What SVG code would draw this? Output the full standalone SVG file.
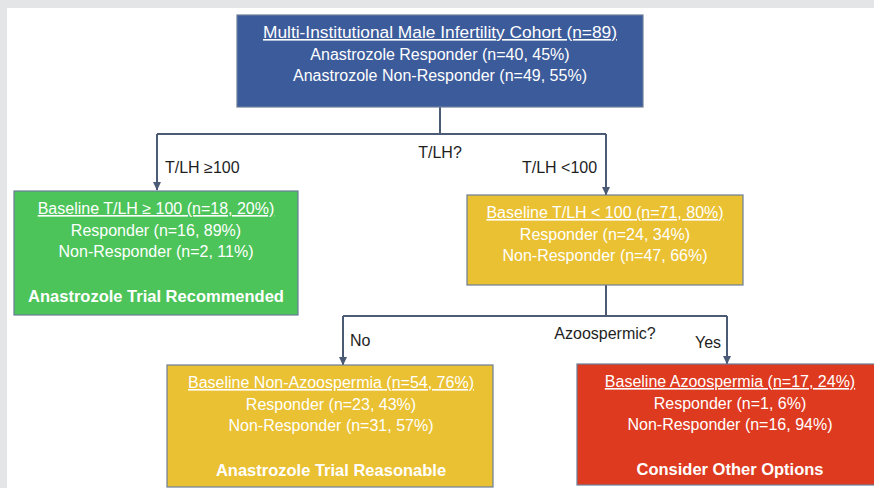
<svg xmlns="http://www.w3.org/2000/svg" width="874" height="488" viewBox="0 0 874 488">
  <defs>
    <marker id="arr" markerWidth="9" markerHeight="9" refX="8" refY="4.5" orient="auto" markerUnits="userSpaceOnUse">
      <path d="M0,0.5 L8.5,4.5 L0,8.5 z" fill="#4b5a75"/>
    </marker>
    <style>
      .box { stroke: #6b7d99; stroke-width: 1.2; }
      .t { font-family: "Liberation Sans", Arial, sans-serif; font-size: 16px; fill: #ffffff; text-anchor: middle; }
      .u { text-decoration: underline; }
      .b { font-weight: bold; font-size: 16.5px; }
      .lbl { font-family: "Liberation Sans", Arial, sans-serif; font-size: 16px; fill: #1e1e1e; }
      .conn { fill: none; stroke: #4b5a75; stroke-width: 2; }
    </style>
  </defs>
  <rect x="0" y="0" width="874" height="488" fill="#ffffff"/>
  <rect x="0" y="0" width="874" height="8" fill="#e4e5e7"/>
  <rect x="0" y="0" width="7" height="488" fill="#e4e5e7"/>

  <g id="connectors">
    <path class="conn" d="M440,107 V134"/>
    <path class="conn" d="M157,134 H606"/>
    <path class="conn" d="M157,134 V190" marker-end="url(#arr)"/>
    <path class="conn" d="M606,134 V195" marker-end="url(#arr)"/>
    <path class="conn" d="M606,285 V316"/>
    <path class="conn" d="M343,316 H727"/>
    <path class="conn" d="M343,316 V365" marker-end="url(#arr)"/>
    <path class="conn" d="M727,316 V364" marker-end="url(#arr)"/>
    <text class="lbl" x="165" y="173">T/LH ≥100</text>
    <text class="lbl" x="440" y="158" text-anchor="middle">T/LH?</text>
    <text class="lbl" x="522" y="173">T/LH &lt;100</text>
    <text class="lbl" x="350" y="346">No</text>
    <text class="lbl" x="605" y="339" text-anchor="middle">Azoospermic?</text>
    <text class="lbl" x="695" y="348">Yes</text>
  </g>

  <g id="cohort">
    <rect class="box" x="237" y="15" width="406" height="92" fill="#3c5b9b"/>
    <text class="t u" x="440" y="38" textLength="354" lengthAdjust="spacingAndGlyphs">Multi-Institutional Male Infertility Cohort (n=89)</text>
    <text class="t" x="440" y="60">Anastrozole Responder (n=40, 45%)</text>
    <text class="t" x="440" y="81">Anastrozole Non-Responder (n=49, 55%)</text>
  </g>

  <g id="tlh-high">
    <rect class="box" x="14" y="191" width="284" height="124" fill="#4cc459"/>
    <text class="t u" x="156" y="214">Baseline T/LH ≥ 100 (n=18, 20%)</text>
    <text class="t" x="156" y="236">Responder (n=16, 89%)</text>
    <text class="t" x="156" y="257">Non-Responder (n=2, 11%)</text>
    <text class="t b" x="156" y="302">Anastrozole Trial Recommended</text>
  </g>

  <g id="tlh-low">
    <rect class="box" x="467" y="195" width="276" height="90" fill="#eac132"/>
    <text class="t u" x="605" y="218">Baseline T/LH &lt; 100 (n=71, 80%)</text>
    <text class="t" x="605" y="240">Responder (n=24, 34%)</text>
    <text class="t" x="605" y="261">Non-Responder (n=47, 66%)</text>
  </g>

  <g id="non-azoo">
    <rect class="box" x="167" y="365" width="326" height="122" fill="#eac132"/>
    <text class="t u" x="331" y="388">Baseline Non-Azoospermia (n=54, 76%)</text>
    <text class="t" x="331" y="410">Responder (n=23, 43%)</text>
    <text class="t" x="331" y="431">Non-Responder (n=31, 57%)</text>
    <text class="t b" x="331" y="476">Anastrozole Trial Reasonable</text>
  </g>

  <g id="azoo">
    <rect class="box" x="577" y="364" width="310" height="121" fill="#de3a1f"/>
    <text class="t u" x="730" y="387">Baseline Azoospermia (n=17, 24%)</text>
    <text class="t" x="730" y="409">Responder (n=1, 6%)</text>
    <text class="t" x="730" y="430">Non-Responder (n=16, 94%)</text>
    <text class="t b" x="730" y="475">Consider Other Options</text>
  </g>
</svg>
